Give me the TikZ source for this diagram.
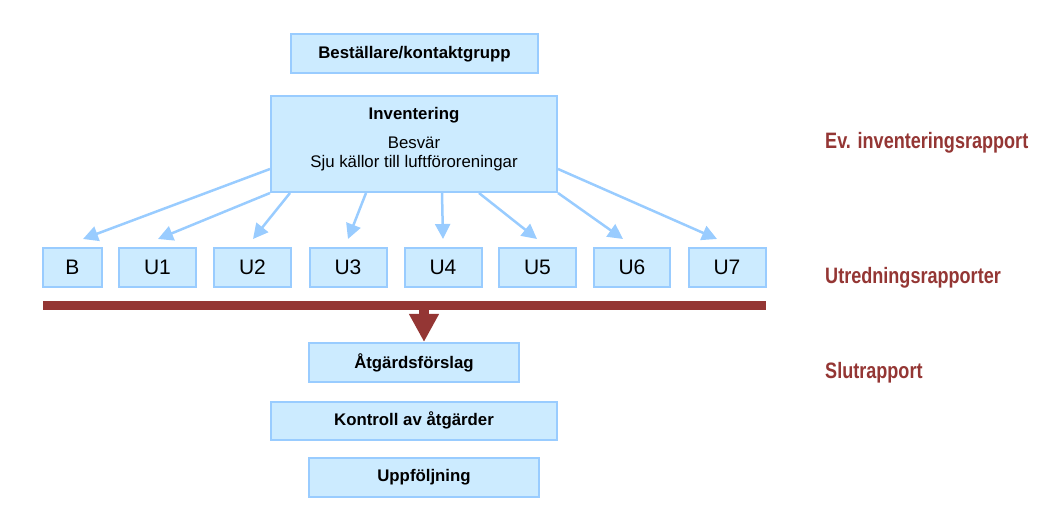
\documentclass[tikz,border=0pt]{standalone}
\usepackage{fontspec}
\setmainfont{Liberation Sans}
\newfontfamily\condfont[FakeStretch=0.81]{Liberation Sans}
\usetikzlibrary{arrows.meta,calc}
\definecolor{boxfill}{RGB}{204,235,255}
\definecolor{boxline}{RGB}{153,204,255}
\definecolor{darkred}{RGB}{148,54,52}
\begin{document}
\begin{tikzpicture}[x=1pt,y=-1pt,
  box/.style={draw=boxline,fill=boxfill,line width=2pt,inner sep=0pt,
    minimum height=39pt,font=\fontsize{16.8}{20}\selectfont\bfseries},
  ubox/.style={box,minimum width=59pt,font=\fontsize{21}{24}\selectfont},
  txt/.style={inner sep=0pt,anchor=base,font=\fontsize{16.8}{20}\selectfont},
  conn/.style={draw=boxline,line width=2.5pt,-{Triangle[length=15pt,width=15pt]}},
  rlabel/.style={inner sep=0pt,anchor=base west,text=darkred,
    font=\fontsize{22.3}{26}\condfont\bfseries}]
\useasboundingbox (0,0) rectangle (1058,521);
% top
\node[box,minimum width=247pt] (top) at (414.5,54) {Beställare/kontaktgrupp};
\node[box,minimum width=286pt,minimum height=96pt] (inv) at (414,144) {};
\node[txt,font=\fontsize{16.8}{20}\selectfont\bfseries] (invt) at (414,120) {Inventering};
\node[txt] (besv) at (414,149) {Besvär};
\node[txt] (sju) at (414,168) {Sju källor till luftföroreningar};
% row
\node[ubox] (B)  at (72.5,267.5) {B};
\node[ubox,minimum width=77pt] (U1) at (157.5,267.5) {U1};
\node[ubox,minimum width=77pt] (U2) at (252.5,267.5) {U2};
\node[ubox,minimum width=77pt] (U3) at (348,267.5) {U3};
\node[ubox,minimum width=77pt] (U4) at (443,267.5) {U4};
\node[ubox,minimum width=77pt] (U5) at (537.5,267.5) {U5};
\node[ubox,minimum width=76pt] (U6) at (632,267.5) {U6};
\node[ubox,minimum width=77pt] (U7) at (727,267.5) {U7};
% connectors
\coordinate (tB)  at (83,239);
\coordinate (tU1) at (158,239);
\coordinate (tU2) at (253,239);
\coordinate (tU3) at (348,239);
\coordinate (tU4) at (443,239);
\coordinate (tU5) at (537,239);
\coordinate (tU6) at (623,239);
\coordinate (tU7) at (717,239);
\draw[conn] ($(inv.south west)+(0,-24)$) -- (tB);
\draw[conn] (inv.south west) -- (tU1);
\draw[conn] ($(inv.south west)+(20,0)$) -- (tU2);
\draw[conn] ($(inv.south west)+(96,0)$) -- (tU3);
\draw[conn] ($(inv.south west)+(172,0)$) -- (tU4);
\draw[conn] ($(inv.south west)+(209,0)$) -- (tU5);
\draw[conn] (inv.south east) -- (tU6);
\draw[conn] ($(inv.south east)+(0,-24)$) -- (tU7);
% bar
\coordinate (barL) at (43,306);
\coordinate (barR) at (766,306);
\coordinate (barM) at (424,306);
\draw[darkred,line width=9pt] (barL) -- (barR);
% bottom boxes
\node[box,minimum width=210pt] (atg) at (414,362.5) {Åtgärdsförslag};
\node[box,minimum width=286pt,minimum height=38pt] (kon) at (414,420.5) {Kontroll av åtgärder};
\node[box,minimum width=230pt] (upp) at (424,477) {Uppföljning};
\draw[darkred,line width=10pt,-{Triangle[length=28pt,width=28pt]}] (barM) -- (barM |- atg.north);
% right labels
\node[rlabel] (r1) at (825,149) {Ev. inventeringsrapport};
\node[rlabel] (r2) at (825,284) {Utredningsrapporter};
\node[rlabel] (r3) at (825,378) {Slutrapport};
\end{tikzpicture}
\end{document}
